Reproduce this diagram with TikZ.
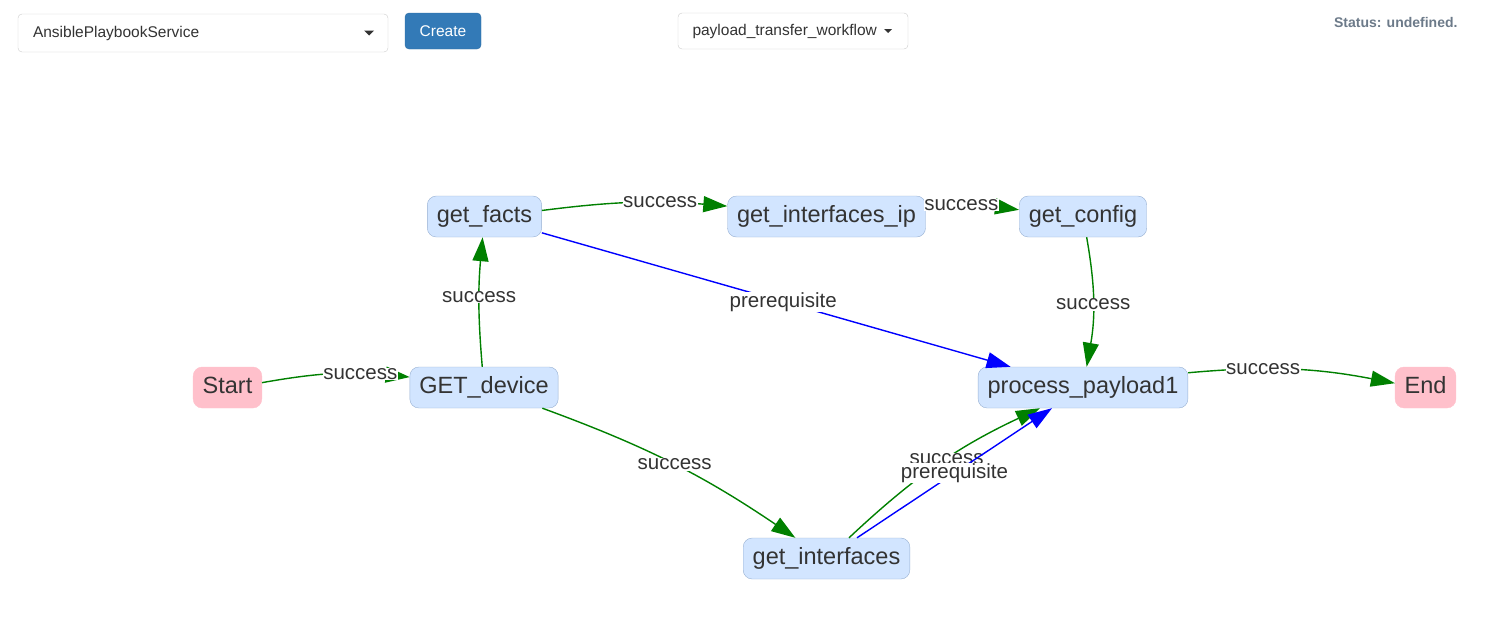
\documentclass[tikz,border=0pt]{standalone}
\usepackage{fontspec}
\setmainfont{Liberation Sans}
\usepackage{xcolor}
\definecolor{tasknode}{RGB}{210,229,255}
\definecolor{taskedge}{RGB}{151,176,210}
\definecolor{termpink}{RGB}{255,192,203}
\definecolor{labelgrey}{RGB}{51,51,51}
\definecolor{okgreen}{RGB}{0,128,0}
\definecolor{prereqblue}{RGB}{0,0,255}
\definecolor{btnblue}{RGB}{51,122,183}
\definecolor{btnedge}{RGB}{46,109,164}
\definecolor{menuedge}{RGB}{204,204,204}
\definecolor{statusgrey}{RGB}{108,122,137}
\usetikzlibrary{positioning, arrows.meta}

\begin{document}
\begin{tikzpicture}[
  x=1pt, y=-1pt,
  task/.style={rectangle, rounded corners=9pt, draw=taskedge, fill=tasknode, minimum height=41pt, inner xsep=9.5pt, text height=17pt, text depth=5pt, font=\fontsize{23.5}{28}\selectfont, text=labelgrey},
  terminal/.style={task, draw=termpink, fill=termpink},
  success/.style={-{Triangle[length=24pt, width=16pt]}, color=okgreen, line width=1.4pt},
  prereq/.style={success, color=prereqblue},
  elabel/.style={fill=white, inner sep=0.5pt, font=\fontsize{20.5}{22}\selectfont, text=labelgrey},
  menu/.style={rectangle, rounded corners=4pt, draw=menuedge, fill=white, align=left, font=\fontsize{15.5}{18}\selectfont, text=labelgrey},
  button/.style={rectangle, rounded corners=4pt, draw=btnedge, fill=btnblue, minimum width=76pt, minimum height=36pt, font=\fontsize{15.5}{18}\selectfont, text=white}
]
  \useasboundingbox (0,0) rectangle (1495,638);

  % Toolbar
  \node[menu, text width=340pt, inner xsep=15pt, minimum height=38pt] (service) at (203,33) {AnsiblePlaybookService};
  \fill[labelgrey] ([xshift=-19pt]service.east) ++(-5,-2.5) -- ++(10,0) -- ++(-5,5) -- cycle;
  \node[button] (create) at (443,31) {Create};
  \node[menu, text width=201pt, inner xsep=14.5pt, minimum height=36pt] (workflow) at (793,31) {payload\_transfer\_workflow};
  \fill[labelgrey] ([xshift=-20pt]workflow.east) ++(-4,-2) -- ++(8,0) -- ++(-4,4) -- cycle;
  \node[anchor=east, font=\fontsize{14}{16}\selectfont\bfseries, text=statusgrey] (status) at (1461,22) {Status: undefined.};

  % Nodes
  \node[terminal] (start) at (227.5,387.5) {Start};
  \node[task] (getdevice) at (484,387.5) {GET\_device};
  \node[task] (getfacts) at (484.5,216.5) {get\_facts};
  \node[task] (getifip) at (826.5,216.5) {get\_interfaces\_ip};
  \node[task] (getconfig) at (1083,216.5) {get\_config};
  \node[task] (payload) at (1083,387.5) {process\_payload1};
  \node[terminal] (end) at (1425.5,387.5) {End};
  \node[task] (getifs) at (826.5,558.5) {get\_interfaces};

  % Arrows
  \path[success] (start) edge[bend left=8] node[elabel, pos=0.68] {success} (getdevice);
  \path[success] (getdevice) edge[bend left=5] node[elabel, pos=0.54] {success} (getfacts);
  \path[success] (getfacts) edge[bend left=6] node[elabel, pos=0.65] {success} (getifip);
  \path[success] (getifip) edge[bend left=6] node[elabel, pos=0.37] {success} (getconfig);
  \path[success] (getconfig) edge[bend left=10] node[elabel, pos=0.52] {success} (payload);
  \path[success] (payload) edge[bend left=8] node[elabel, pos=0.35] {success} (end);
  \path[success] (getdevice) edge[bend left=7] node[elabel, pos=0.505] {success} (getifs);
  \path[prereq] (getfacts) edge node[elabel, pos=0.515] {prerequisite} (payload);
  \draw[success] ([xshift=22.5pt]getifs.north) to[bend left=9] node[elabel, pos=0.545] {success} ([xshift=-43pt]payload.south);
  \draw[prereq] ([xshift=30.5pt]getifs.north) to node[elabel, pos=0.5] {prerequisite} ([xshift=-31pt]payload.south);
\end{tikzpicture}
\end{document}
